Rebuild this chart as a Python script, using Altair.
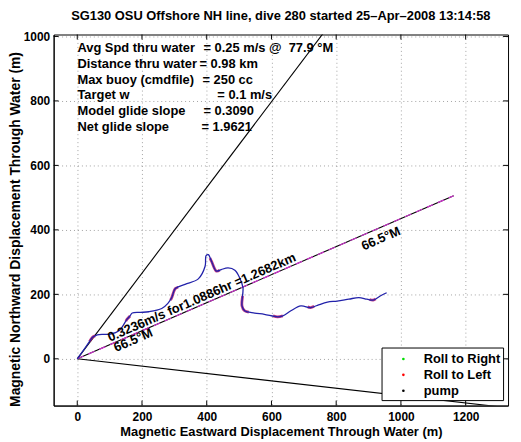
import altair as alt
import pandas as pd

# ---------------- data ----------------
TITLE = "SG130 OSU Offshore NH line, dive 280 started 25\u2013Apr\u20132008 13:14:58"
X_TITLE = "Magnetic Eastward Displacement Through Water (m)"
Y_TITLE = "Magnetic Northward Displacement Through Water (m)"

x_ticks = [0, 200, 400, 600, 800, 1000, 1200]
y_ticks = [0, 200, 400, 600, 800, 1000]
x_domain = [-73, 1331]
y_domain = [-145, 1006]

# glider track (displacement through water)
track_x = [0, 20, 38, 47, 55, 62, 80, 103, 129, 150, 154, 163, 170, 195, 221, 261, 280, 292,
           303, 333, 374, 395, 398, 405, 415, 430, 445, 466, 487, 502, 512, 509, 517, 548,
           578, 619, 635, 660, 691, 721, 742, 773, 803, 839, 870, 895, 914, 936, 956]
track_y = [0, 28, 54, 67, 71, 74, 76, 77, 87, 117, 123, 133, 142, 144, 146, 156, 172, 190,
           218, 231, 248, 287, 320, 323, 302, 272, 277, 282, 275, 251, 221, 164, 149, 142,
           138, 130, 133, 149, 164, 159, 166, 176, 179, 185, 190, 185, 182, 195, 205]

# roll-to-left portions of the track
left_seg = [1, 1, 1, 2, 2, 2, 3, 3, 3, 3, 4, 4, 4, 4, 5, 5, 5, 5, 6, 6, 6, 7, 7, 7, 8, 8, 8]
left_x = [38, 47, 55, 150, 154, 163, 288, 292, 303, 312, 410, 415, 430, 440,
          511, 509, 517, 530, 605, 619, 635, 712, 721, 732, 903, 914, 922]
left_y = [54, 67, 71, 117, 123, 133, 182, 190, 218, 222, 312, 302, 272, 275,
          195, 164, 149, 145, 133, 130, 133, 161, 159, 163, 184, 182, 186]

# heading cone and net heading line
cone_seg = ["upper", "upper", "lower", "lower"]
cone_x = [0, 903, 0, 1490]
cone_y = [0, 1200, 0, -170]
head_x = [0, 1163]
head_y = [0, 506]

stat_labels = ["Avg Spd thru water", "Distance thru water", "Max buoy (cmdfile)",
               "Target w", "Model glide slope", "Net glide slope"]
stat_values = ["= 0.25 m/s @\u00a0 77.9 \u00b0M", "= 0.98 km", "= 250 cc",
               "= 0.1 m/s", "= 0.3090", "= 1.9621"]

legend_labels = ["Roll to Right", "Roll to Left", "pump"]
legend_colors = ["#00dd00", "#ff0000", "#000000"]

speed_label = "0.3236m/s for1.0886hr =1.2682km"
heading_label = "66.5\u00b0M"

# ---------------- layout ----------------
FONT = "Liberation Sans"
W, H = 458, 374

xscale = alt.Scale(domain=x_domain, nice=False, zero=False)
yscale = alt.Scale(domain=y_domain, nice=False, zero=False)
xaxis = alt.Axis(values=x_ticks, title=X_TITLE, grid=True, ticks=False,
                 labelPadding=6, titlePadding=3, format="d")
yaxis = alt.Axis(values=y_ticks, title=Y_TITLE, grid=True, ticks=False,
                 labelPadding=4, titlePadding=1, titleFontSize=14, titleY=196, format="d")


def X(f):
    return alt.X(f, scale=xscale, axis=xaxis)


def Y(f):
    return alt.Y(f, scale=yscale, axis=yaxis)


track_df = pd.DataFrame({"x": track_x, "y": track_y, "i": range(len(track_x))})
left_df = pd.DataFrame({"seg": left_seg, "x": left_x, "y": left_y, "i": range(len(left_x))})
cone_df = pd.DataFrame({"seg": cone_seg, "x": cone_x, "y": cone_y})
head_df = pd.DataFrame({"x": head_x, "y": head_y})

cone = alt.Chart(cone_df).mark_line(color="black", strokeWidth=1.1, clip=True).encode(
    x=X("x:Q"), y=Y("y:Q"), detail="seg:N")

head_black = alt.Chart(head_df).mark_line(color="black", strokeWidth=1.1, clip=True).encode(
    x=X("x:Q"), y=Y("y:Q"))
head_mag = alt.Chart(head_df).mark_line(color="#cc33cc", strokeWidth=1.2, strokeDash=[7, 5],
                                        clip=True).encode(x=X("x:Q"), y=Y("y:Q"))

left_lines = alt.Chart(left_df).mark_line(color="#b8186e", strokeWidth=2.8, opacity=0.85,
                                          interpolate="catmull-rom", clip=True).encode(
    x=X("x:Q"), y=Y("y:Q"), detail="seg:N", order="i:Q")

track = alt.Chart(track_df).mark_line(color="#2222aa", strokeWidth=1.3,
                                      interpolate="catmull-rom", clip=True).encode(
    x=X("x:Q"), y=Y("y:Q"), order="i:Q")

one = pd.DataFrame({"a": [0]})


def rot_text(txt, xd, yd):
    return alt.Chart(one).mark_text(text=txt, angle=336.5, align="left",
                                    baseline="alphabetic", font=FONT, fontSize=13,
                                    fontWeight="bold", color="black").encode(
        x=alt.datum(xd), y=alt.datum(yd))


txt_speed = rot_text(speed_label, 101, 53)
txt_head1 = rot_text(heading_label, 120, 21)
txt_head2 = rot_text(heading_label, 885, 336)

# stats block (pixel placement inside the plot)
stat_y = [14, 29.8, 45.6, 61.4, 77.2, 93]
stat_vx = [151, 147, 150, 165, 151, 149]
stat_layers = []
for lab, val, yy, vx in zip(stat_labels, stat_values, stat_y, stat_vx):
    stat_layers.append(alt.Chart(one).mark_text(text=lab, align="left", baseline="middle",
                                                font=FONT, fontSize=13, fontWeight="bold",
                                                color="black").encode(
        x=alt.value(24), y=alt.value(yy)))
    stat_layers.append(alt.Chart(one).mark_text(text=val, align="left", baseline="middle",
                                                font=FONT, fontSize=13, fontWeight="bold",
                                                color="black").encode(
        x=alt.value(vx), y=alt.value(yy)))

# inward tick marks on all four sides
txd = pd.DataFrame({"t": x_ticks})
tyd = pd.DataFrame({"t": y_ticks})
tk_b = alt.Chart(txd).mark_rule(color="black").encode(x=X("t:Q"), y=alt.value(H), y2=alt.value(H - 5))
tk_t = alt.Chart(txd).mark_rule(color="black").encode(x=X("t:Q"), y=alt.value(0), y2=alt.value(5))
tk_l = alt.Chart(tyd).mark_rule(color="black").encode(y=Y("t:Q"), x=alt.value(0), x2=alt.value(5))
tk_r = alt.Chart(tyd).mark_rule(color="black").encode(y=Y("t:Q"), x=alt.value(W), x2=alt.value(W - 5))

# legend box (bottom right, drawn over the plot)
leg_box = alt.Chart(one).mark_rect(fill="white", stroke="black", strokeWidth=1).encode(
    x=alt.value(331), x2=alt.value(453.5), y=alt.value(316), y2=alt.value(369))
leg_layers = [leg_box]
for k, (lab, col) in enumerate(zip(legend_labels, legend_colors)):
    ry = 327 + 16 * k
    leg_layers.append(alt.Chart(one).mark_point(filled=True, size=7, color=col, opacity=1,
                                                shape="circle").encode(
        x=alt.value(352.5), y=alt.value(ry)))
    leg_layers.append(alt.Chart(one).mark_text(text=lab, align="left", baseline="middle",
                                               font=FONT, fontSize=13, fontWeight="bold",
                                               color="black").encode(
        x=alt.value(373), y=alt.value(ry)))

chart = alt.layer(
    cone, head_black, head_mag, left_lines, track,
    txt_speed, txt_head1, txt_head2, *stat_layers, tk_b, tk_t, tk_l, tk_r, *leg_layers
).properties(
    width=W, height=H,
    title=alt.TitleParams(TITLE, font=FONT, fontSize=13, fontWeight="bold", color="black",
                          anchor="middle", offset=8),
    autosize=alt.AutoSizeParams(type="none"),
    padding={"left": 46, "top": 25, "right": 5, "bottom": 35},
    background="white",
).configure_axis(
    labelFont=FONT, labelFontSize=12, labelFontWeight="bold", labelColor="black",
    titleFont=FONT, titleFontSize=13, titleFontWeight="bold", titleColor="black",
    gridColor="#8c8c8c", gridDash=[1, 3], gridWidth=0.8, gridOpacity=1,
    domainColor="black", domainWidth=1,
).configure_view(stroke="black", strokeWidth=1)

chart.save("out.html", embed_options={"renderer": "svg", "actions": False})
